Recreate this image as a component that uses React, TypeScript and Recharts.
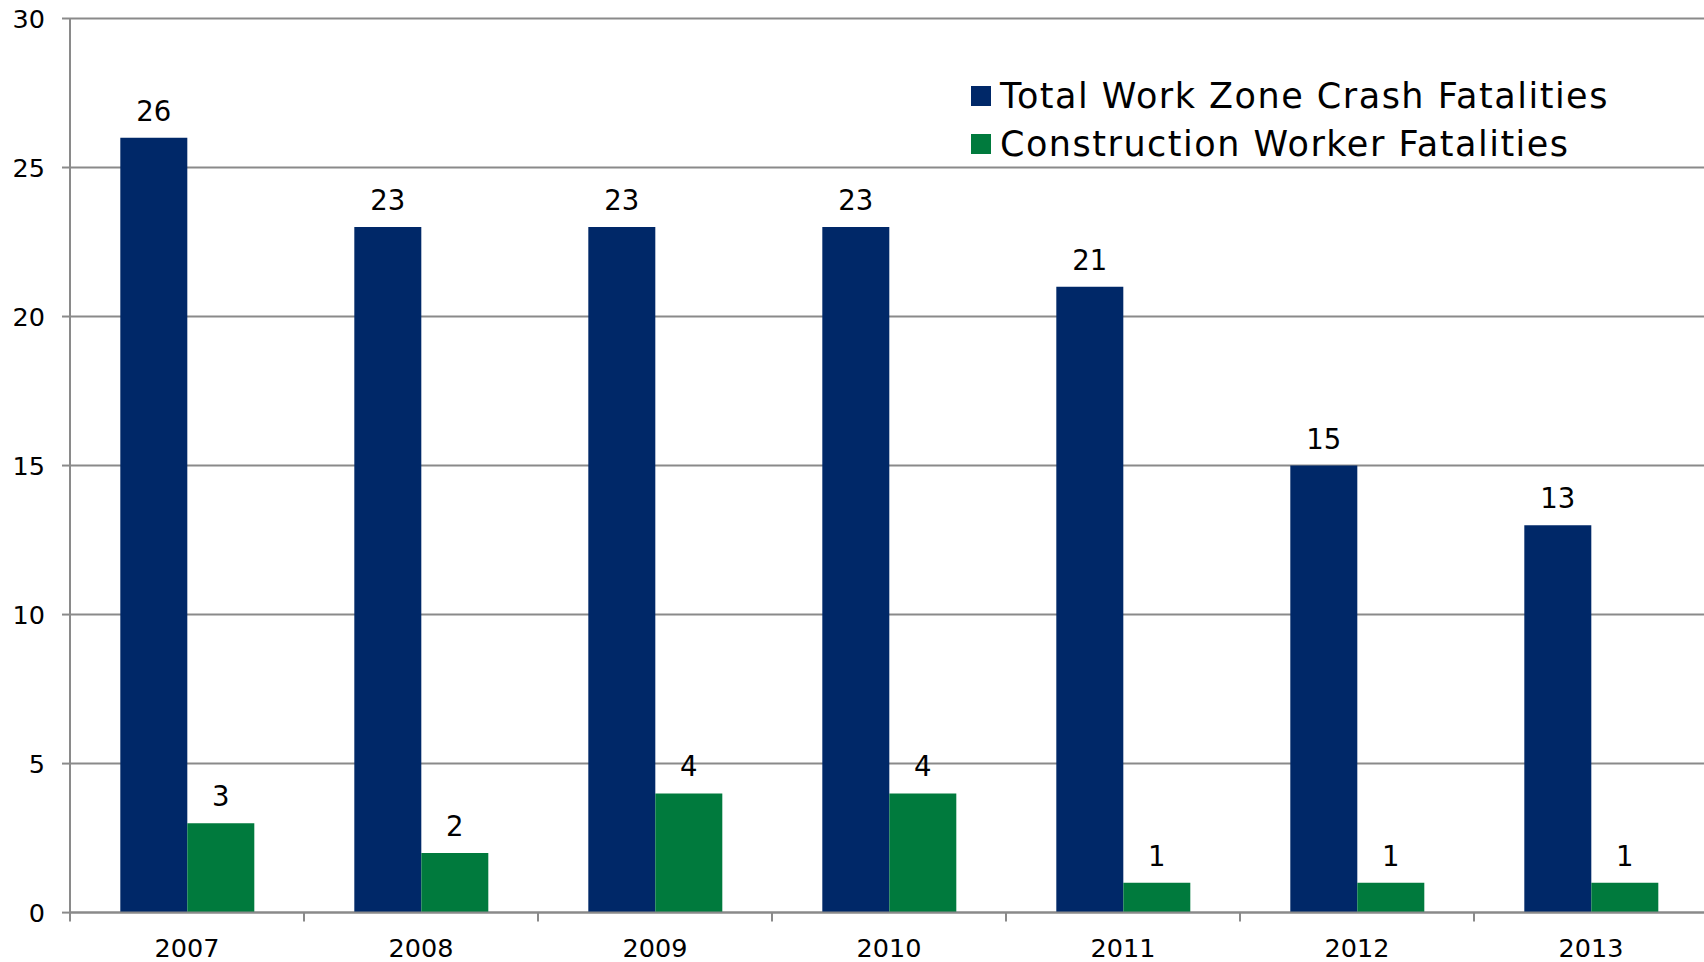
import React from 'react';
import { BarChart, Bar, XAxis, YAxis, CartesianGrid, LabelList } from 'recharts';

const categories = ['2007', '2008', '2009', '2010', '2011', '2012', '2013'];
const totalFatalities = [26, 23, 23, 23, 21, 15, 13];
const workerFatalities = [3, 2, 4, 4, 1, 1, 1];
const yTicks = [0, 5, 10, 15, 20, 25, 30];
const seriesNames = ['Total Work Zone Crash Fatalities', 'Construction Worker Fatalities'];

const NAVY = '#002868';
const GREEN = '#007A3D';
const GRID = '#8a8a8a';
const FONT = '"DejaVu Sans", Verdana, sans-serif';

const data = categories.map((year, i) => ({
  year,
  total: totalFatalities[i],
  worker: workerFatalities[i],
}));

const CHART_W = 1708;
const CHART_H = 962;
const Y_AXIS_W = 70;
const BAND = (CHART_W - Y_AXIS_W) / categories.length;

const XTick = (props: any) => {
  const { x, y, payload, index } = props;
  const left = x - BAND / 2;
  const right = x + BAND / 2;
  return (
    <g>
      <line x1={left} y1={y} x2={left} y2={y + 9} stroke={GRID} strokeWidth={2} />
      {index === categories.length - 1 && (
        <line x1={right} y1={y} x2={right} y2={y + 9} stroke={GRID} strokeWidth={2} />
      )}
      <text x={x} y={y + 44} textAnchor="middle" fontSize={25.5} fill="#000" fontFamily={FONT}>
        {payload.value}
      </text>
    </g>
  );
};

export default function App() {
  const colors = [NAVY, GREEN];
  return (
    <div
      style={{
        position: 'absolute',
        left: 0,
        top: 0,
        width: 1704,
        height: 962,
        overflow: 'hidden',
        background: '#fff',
        fontFamily: FONT,
      }}
    >
      <BarChart
        width={CHART_W}
        height={CHART_H}
        data={data}
        margin={{ top: 18.5, right: 0, bottom: 0, left: 0 }}
        barCategoryGap="21.5%"
        barGap={0}
      >
        <CartesianGrid vertical={false} stroke={GRID} strokeWidth={2} />
        <XAxis
          dataKey="year"
          height={49.4}
          tickLine={false}
          tickSize={0}
          tickMargin={0}
          axisLine={{ stroke: GRID, strokeWidth: 2 }}
          tick={<XTick />}
          interval={0}
        />
        <YAxis
          width={Y_AXIS_W}
          domain={[0, 30]}
          ticks={yTicks}
          interval={0}
          tickSize={8}
          tickMargin={17}
          axisLine={{ stroke: GRID, strokeWidth: 2 }}
          tickLine={{ stroke: GRID, strokeWidth: 2 }}
          tick={{ fontSize: 25.5, fill: '#000', fontFamily: FONT }}
        />
        <Bar dataKey="total" name={seriesNames[0]} fill={NAVY} isAnimationActive={false}>
          <LabelList dataKey="total" position="top" offset={17} style={{ fontSize: 27.5, fill: '#000', fontFamily: FONT }} />
        </Bar>
        <Bar dataKey="worker" name={seriesNames[1]} fill={GREEN} isAnimationActive={false}>
          <LabelList dataKey="worker" position="top" offset={17} style={{ fontSize: 27.5, fill: '#000', fontFamily: FONT }} />
        </Bar>
      </BarChart>
      <div style={{ position: 'absolute', left: 971, top: 72, lineHeight: '48px', fontSize: 35, color: '#000' }}>
        {seriesNames.map((name, i) => (
          <div key={name} style={{ display: 'flex', alignItems: 'center', height: 48, whiteSpace: 'nowrap' }}>
            <span style={{ display: 'inline-block', width: 20, height: 20, background: colors[i], marginRight: 9 }} />
            <span style={{ letterSpacing: '1.5px' }}>{name}</span>
          </div>
        ))}
      </div>
    </div>
  );
}
